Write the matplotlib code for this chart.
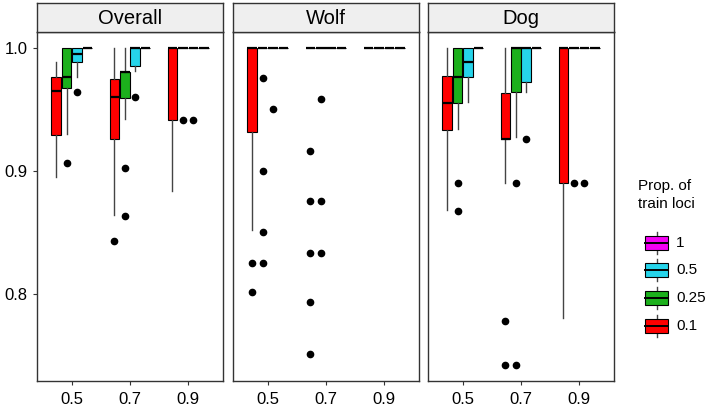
import matplotlib
matplotlib.use("Agg")
import matplotlib.pyplot as plt
from matplotlib.patches import Rectangle

plt.rcParams['font.family'] = ['Liberation Sans', 'DejaVu Sans']

# ---------------- data ----------------
x_labels = ["0.5", "0.7", "0.9"]
groups = ["0.1", "0.25", "0.5", "1"]
group_colors = ["#FF0000", "#1CB01C", "#26D4EA", "#F500F5"]
panels = ["Overall", "Wolf", "Dog"]

# each list: one row per group (0.1, 0.25, 0.5, 1), one value per x (0.5, 0.7, 0.9)
overall_whislo = [[0.895, 0.864, 0.883], [0.930, 0.942, 1.0], [0.976, 0.981, 1.0], [1.0, 1.0, 1.0]]
overall_q1 = [[0.929, 0.926, 0.941], [0.967, 0.959, 1.0], [0.988, 0.985, 1.0], [1.0, 1.0, 1.0]]
overall_med = [[0.965, 0.960, 1.0], [0.976, 0.980, 1.0], [0.995, 1.0, 1.0], [1.0, 1.0, 1.0]]
overall_q3 = [[0.976, 0.974, 1.0], [1.0, 0.980, 1.0], [1.0, 1.0, 1.0], [1.0, 1.0, 1.0]]
overall_whishi = [[0.988, 1.0, 1.0], [1.0, 1.0, 1.0], [1.0, 1.0, 1.0], [1.0, 1.0, 1.0]]
overall_fliers = [[[], [0.843], []],
                  [[0.906], [0.902, 0.863], [0.941]],
                  [[0.964], [0.960], [0.941]],
                  [[], [], []]]

wolf_whislo = [[0.852, 1.0, 1.0], [1.0, 1.0, 1.0], [1.0, 1.0, 1.0], [1.0, 1.0, 1.0]]
wolf_q1 = [[0.931, 1.0, 1.0], [1.0, 1.0, 1.0], [1.0, 1.0, 1.0], [1.0, 1.0, 1.0]]
wolf_med = [[1.0, 1.0, 1.0], [1.0, 1.0, 1.0], [1.0, 1.0, 1.0], [1.0, 1.0, 1.0]]
wolf_q3 = [[1.0, 1.0, 1.0], [1.0, 1.0, 1.0], [1.0, 1.0, 1.0], [1.0, 1.0, 1.0]]
wolf_whishi = [[1.0, 1.0, 1.0], [1.0, 1.0, 1.0], [1.0, 1.0, 1.0], [1.0, 1.0, 1.0]]
wolf_fliers = [[[0.825, 0.801], [0.916, 0.875, 0.833, 0.793, 0.751], []],
               [[0.975, 0.900, 0.850, 0.825], [0.958, 0.875, 0.833], []],
               [[0.950], [], []],
               [[], [], []]]

dog_whislo = [[0.868, 0.890, 0.780], [0.934, 0.927, 1.0], [0.956, 0.964, 1.0], [1.0, 1.0, 1.0]]
dog_q1 = [[0.933, 0.926, 0.890], [0.955, 0.964, 1.0], [0.976, 0.972, 1.0], [1.0, 1.0, 1.0]]
dog_med = [[0.955, 0.926, 1.0], [0.976, 1.0, 1.0], [0.988, 1.0, 1.0], [1.0, 1.0, 1.0]]
dog_q3 = [[0.977, 0.963, 1.0], [1.0, 1.0, 1.0], [1.0, 1.0, 1.0], [1.0, 1.0, 1.0]]
dog_whishi = [[1.0, 1.0, 1.0], [1.0, 1.0, 1.0], [1.0, 1.0, 1.0], [1.0, 1.0, 1.0]]
dog_fliers = [[[], [0.778, 0.742], []],
              [[0.890, 0.867], [0.890, 0.742], [0.890]],
              [[], [0.926], [0.890]],
              [[], [], []]]

y_ticks = [0.8, 0.9, 1.0]
y_ticklabels = ["0.8", "0.9", "1.0"]

panel_data = [
    (overall_whislo, overall_q1, overall_med, overall_q3, overall_whishi, overall_fliers),
    (wolf_whislo, wolf_q1, wolf_med, wolf_q3, wolf_whishi, wolf_fliers),
    (dog_whislo, dog_q1, dog_med, dog_q3, dog_whishi, dog_fliers),
]

# ---------------- layout ----------------
W, H = 712, 411
fig = plt.figure(figsize=(W / 100, H / 100), dpi=100)
fig.patch.set_facecolor("white")

def fig_rect(x0, y0, x1, y1):
    return [x0 / W, 1 - y1 / H, (x1 - x0) / W, (y1 - y0) / H]

panel_x = [(37, 223), (233, 419), (428, 614)]
strip_top, strip_bot, panel_bot = 3, 32, 381
border = "#333333"
dodge = 0.18
box_w = 0.165
offsets = [-1.5 * dodge, -0.5 * dodge, 0.5 * dodge, 1.5 * dodge]

for p, (name, (x0, x1), stats) in enumerate(zip(panels, panel_x, panel_data)):
    whislo, q1, med, q3, whishi, fliers = stats
    ax = fig.add_axes(fig_rect(x0, strip_bot, x1, panel_bot))
    for g in range(len(groups)):
        bstats = []
        positions = []
        for i in range(len(x_labels)):
            bstats.append(dict(whislo=whislo[g][i], q1=q1[g][i], med=med[g][i],
                               q3=q3[g][i], whishi=whishi[g][i], fliers=fliers[g][i]))
            positions.append(i + offsets[g])
        ax.bxp(bstats, positions=positions, widths=box_w, patch_artist=True,
               showcaps=False, manage_ticks=False,
               boxprops=dict(facecolor=group_colors[g], edgecolor="black", linewidth=0.8),
               medianprops=dict(color="black", linewidth=1.6),
               whiskerprops=dict(color="#444444", linewidth=1.0),
               flierprops=dict(marker="o", markerfacecolor="black", markeredgecolor="black",
                               markersize=4.5, linestyle="none"),
               zorder=3)
    ax.set_xlim(-0.6, 2.6)
    ax.set_ylim(0.7289, 1.0126)
    ax.set_xticks(range(len(x_labels)))
    ax.set_xticklabels(x_labels, fontsize=12)
    ax.tick_params(axis="x", length=3, color=border, pad=5, labelcolor="black")
    if p == 0:
        ax.set_yticks(y_ticks)
        ax.set_yticklabels(y_ticklabels, fontsize=12)
        ax.tick_params(axis="y", length=3, color=border, pad=4, labelcolor="black")
    else:
        ax.set_yticks([])
    for s in ax.spines.values():
        s.set_color(border)
        s.set_linewidth(1.0)
    ax.set_facecolor("white")

    sax = fig.add_axes(fig_rect(x0, strip_top, x1, strip_bot))
    sax.set_facecolor("#EFEFEF")
    sax.set_xticks([])
    sax.set_yticks([])
    for s in sax.spines.values():
        s.set_color(border)
        s.set_linewidth(1.0)
    sax.text(0.5, 0.45, name, ha="center", va="center", fontsize=14.5, color="black",
             transform=sax.transAxes)

# ---------------- legend ----------------
lax = fig.add_axes([0, 0, 1, 1], facecolor="none")
lax.set_xlim(0, W)
lax.set_ylim(H, 0)
lax.axis("off")
lax.text(638, 186, "Prop. of", fontsize=11, ha="left", va="center")
lax.text(638, 204, "train loci", fontsize=11, ha="left", va="center")
key_y = [326, 298, 270, 243]  # for groups 0.1, 0.25, 0.5, 1
for g in range(len(groups)):
    cy = key_y[g]
    lax.plot([656.5, 656.5], [cy - 11, cy + 11], color="#444444", lw=1.0)
    lax.add_patch(Rectangle((645, cy - 7), 23, 14, facecolor=group_colors[g],
                            edgecolor="black", lw=0.8, zorder=3))
    lax.plot([645, 668], [cy, cy], color="black", lw=1.4, zorder=4)
    lax.text(676, cy, groups[g], fontsize=11, ha="left", va="center")

fig.savefig("out.png", dpi=100)
